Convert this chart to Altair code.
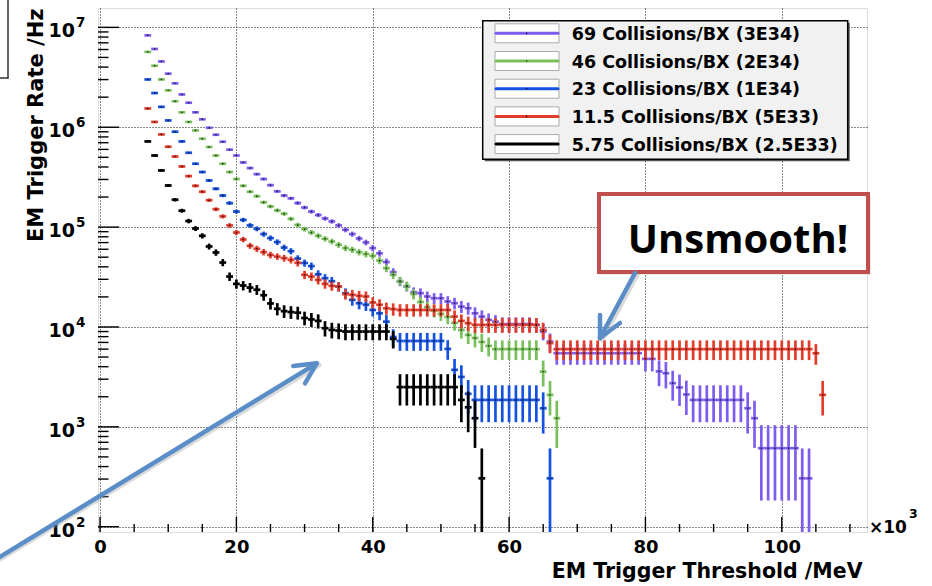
import altair as alt
import pandas as pd

# ---------------------------------------------------------------------------
# EM trigger rate (Hz) versus threshold, one histogram per pile-up scenario.
# Bin centres are in units of 10^3 MeV, bins are 1 unit wide.
# ---------------------------------------------------------------------------
labels = [
    "69 Collisions/BX (3E34)",
    "46 Collisions/BX (2E34)",
    "23 Collisions/BX (1E34)",
    "11.5 Collisions/BX (5E33)",
    "5.75 Collisions/BX (2.5E33)",
]
colors = ["#7f5cf0", "#79bf5c", "#1552e0", "#e23c2a", "#000000"]

first_bin = [7, 7, 7, 7, 7]

rate_69 = [
    8.32e6, 6.08e6, 4.56e6, 3.44e6, 2.75e6, 2.13e6, 1.76e6, 1.41e6, 1.20e6, 9.89e5,
    8.41e5, 7.16e5, 5.96e5, 5.21e5, 4.44e5, 3.90e5, 3.39e5, 3.03e5, 2.63e5, 2.28e5,
    2.07e5, 1.94e5, 1.74e5, 1.57e5, 1.43e5, 1.32e5, 1.22e5, 1.14e5, 1.04e5, 9.40e4,
    8.51e4, 7.69e4, 7.02e4, 6.17e4, 5.46e4, 4.47e4, 3.55e4, 2.85e4, 2.54e4, 2.23e4,
    2.18e4, 2.02e4, 1.94e4, 1.94e4, 1.80e4, 1.73e4, 1.60e4, 1.54e4, 1.37e4, 1.27e4,
    1.18e4, 1.13e4, 1.07e4, 1.07e4, 1.07e4, 1.07e4, 1.07e4, 1.05e4, 9.0e3, 7.14e3,
    5460, 5460, 5460, 5460, 5460, 5460, 5460, 5460, 5460, 5460,
    5460, 5460, 5460, 4790, 4790, 3590, 3440, 2735, 2480, 2110,
    1860, 1860, 1860, 1860, 1860, 1860, 1860, 1860, 1535, 1220,
    611, 611, 611, 611, 611, 611, 305, 305,
]

rate_46 = [
    5.68e6, 4.13e6, 3.01e6, 2.34e6, 1.82e6, 1.41e6, 1.13e6, 9.29e5, 7.67e5, 6.34e5,
    5.21e5, 4.31e5, 3.56e5, 3.03e5, 2.59e5, 2.26e5, 2.04e5, 1.77e5, 1.61e5, 1.47e5,
    1.36e5, 1.21e5, 1.05e5, 9.55e4, 8.83e4, 8.18e4, 7.64e4, 7.18e4, 6.65e4, 6.17e4,
    5.93e4, 5.61e4, 5.37e4, 5.15e4, 4.62e4, 3.88e4, 3.33e4, 2.88e4, 2.57e4, 2.14e4,
    1.78e4, 1.58e4, 1.45e4, 1.35e4, 1.26e4, 1.10e4, 9330, 8320, 7760, 7080,
    6460, 6000, 6000, 6000, 6000, 6000, 6000, 6000, 3570, 2090,
    1220,
]

rate_23 = [
    3.01e6, 2.20e6, 1.60e6, 1.17e6, 9.02e5, 7.21e5, 5.55e5, 4.31e5, 3.56e5, 2.93e5,
    2.42e5, 2.07e5, 1.74e5, 1.43e5, 1.18e5, 1.04e5, 9.62e4, 8.51e4, 7.76e4, 7.08e4,
    6.24e4, 5.74e4, 4.84e4, 4.37e4, 4.07e4, 3.37e4, 3.08e4, 2.87e4, 2.54e4, 2.18e4,
    1.87e4, 1.73e4, 1.67e4, 1.48e4, 1.37e4, 1.13e4, 7940, 7240, 7240, 7240,
    7240, 7240, 7240, 7240, 6030, 3720, 3160, 2140, 1860, 1860,
    1860, 1860, 1860, 1860, 1860, 1860, 1860, 1860, 1535, 305,
]

rate_11p5 = [
    1.54e6, 1.13e6, 8.47e5, 6.38e5, 5.09e5, 4.05e5, 3.24e5, 2.59e5, 2.26e5, 1.86e5,
    1.51e5, 1.28e5, 1.04e5, 8.83e4, 7.52e4, 6.50e4, 6.07e4, 5.62e4, 5.26e4, 5.07e4,
    4.89e4, 4.70e4, 4.39e4, 3.33e4, 3.20e4, 2.96e4, 2.70e4, 2.58e4, 2.54e4, 2.13e4,
    2.10e4, 2.05e4, 2.02e4, 1.76e4, 1.67e4, 1.54e4, 1.51e4, 1.48e4, 1.48e4, 1.48e4,
    1.48e4, 1.48e4, 1.48e4, 1.48e4, 1.48e4, 1.27e4, 1.15e4, 1.09e4, 1.05e4, 1.05e4,
    1.05e4, 1.05e4, 1.05e4, 1.05e4, 1.05e4, 1.05e4, 1.05e4, 1.05e4, 9350, 6890,
    6000, 6000, 6000, 6000, 6000, 6000, 6000, 6000, 6000, 6000,
    6000, 6000, 6000, 6000, 6000, 6000, 6000, 6000, 6000, 6000,
    6000, 6000, 6000, 6000, 6000, 6000, 6000, 6000, 6000, 6000,
    6000, 6000, 6000, 6000, 6000, 6000, 6000, 6000, 5460, 2090,
]

rate_5p75 = [
    7.21e5, 5.21e5, 3.69e5, 2.61e5, 1.88e5, 1.46e5, 1.15e5, 9.68e4, 8.18e4, 6.40e4,
    5.57e4, 4.42e4, 3.20e4, 2.70e4, 2.60e4, 2.48e4, 2.36e4, 2.08e4, 1.72e4, 1.52e4,
    1.44e4, 1.41e4, 1.39e4, 1.23e4, 1.19e4, 1.15e4, 9730, 9350, 9200, 9000,
    9000, 9000, 9000, 9000, 9000, 9000, 7590, 2500, 2500, 2500,
    2500, 2500, 2500, 2500, 2500, 2500, 1860, 1570, 1220, 305,
]

series_rates = [rate_69, rate_46, rate_23, rate_11p5, rate_5p75]

# Rate carried by a single selected event; errors are Poisson, sqrt(N) events.
EVENT_WEIGHT = 300.0

X_DOMAIN = [-0.3, 112.5]
Y_DOMAIN = [88.5, 1.563e7]

rows = []
for order, (lab, start, rates) in enumerate(zip(labels, first_bin, series_rates)):
    for i, r in enumerate(rates):
        x = start + i
        err = (EVENT_WEIGHT * r) ** 0.5
        rows.append({
            "series": lab, "order": order, "x": x, "xl": x - 0.5, "xr": x + 0.5,
            "rate": r, "lo": max(r - err, Y_DOMAIN[0]), "hi": r + err,
        })
hist = pd.DataFrame(rows)

# plot-area geometry (pixels in the page)
X0, Y0, W, H = 98, 8, 769, 524

xs = alt.Scale(domain=X_DOMAIN, nice=False, zero=False)
ys = alt.Scale(type="log", domain=Y_DOMAIN, nice=False)
cs = alt.Scale(domain=labels, range=colors)

FONT = "DejaVu Sans"

# one axis definition per channel, shared by every layer so they merge
x_axis = alt.Axis(
    values=[0, 20, 40, 60, 80, 100], format="d", grid=True, gridDash=[1, 2],
    gridColor="#111", gridWidth=1, ticks=False, domain=False, labelFlush=False,
    labelFont=FONT, labelFontWeight="bold", labelFontSize=18, labelColor="black",
    labelPadding=6, title="EM Trigger Threshold /MeV", titleFont=FONT,
    titleFontWeight="bold", titleFontSize=20.5, titleColor="black",
    titleX=764, titleY=45.5, titleAlign="right", titleBaseline="alphabetic",
)
y_axis = alt.Axis(
    values=[1e2, 1e3, 1e4, 1e5, 1e6, 1e7], grid=True, gridDash=[1, 2],
    gridColor="#111", gridWidth=1, ticks=False, domain=False, labels=False,
    title="EM Trigger Rate /Hz", titleFont=FONT, titleFontWeight="bold",
    titleFontSize=21, titleColor="black", titleAngle=270, titleAlign="right",
    titleBaseline="middle", titleX=-62, titleY=0,
)


def X(field):
    return alt.X(field, scale=xs, axis=x_axis)


def Y(field):
    return alt.Y(field, scale=ys, axis=y_axis)


base = alt.Chart(hist)
h_bars = base.mark_rule(strokeWidth=2.7, clip=True).encode(
    x=X("xl:Q"), x2="xr:Q", y=Y("rate:Q"),
    color=alt.Color("series:N", scale=cs, legend=None),
)
v_bars = base.mark_rule(strokeWidth=2.7, clip=True).encode(
    x=X("x:Q"), y=Y("lo:Q"), y2="hi:Q",
    color=alt.Color("series:N", scale=cs, legend=None),
)
dots = base.mark_square(size=2, color="black", opacity=0.8, clip=True).encode(
    x=X("x:Q"), y=Y("rate:Q"),
)

# inward axis ticks
y_major = [10.0 ** k for k in range(2, 8)]
y_minor = [m * 10.0 ** k for k in range(2, 7) for m in range(2, 10)]
x_major = [0, 20, 40, 60, 80, 100]
x_minor = [v for v in range(5, 112, 5) if v % 20]


def y_ticks(vals, length):
    return alt.Chart(pd.DataFrame({"v": vals})).mark_rule(color="black", strokeWidth=1.4).encode(
        y=Y("v:Q"), x=alt.value(0), x2=alt.value(length))


def x_ticks(vals, length):
    return alt.Chart(pd.DataFrame({"v": vals})).mark_rule(color="black", strokeWidth=1.4).encode(
        x=X("v:Q"), y=alt.value(H), y2=alt.value(H - length))


ticks = [y_ticks(y_major, 21), y_ticks(y_minor, 10.5), x_ticks(x_major, 15), x_ticks(x_minor, 8)]

# "10^k" labels on the log axis
exp_df = pd.DataFrame({"v": y_major, "e": [str(k) for k in range(2, 8)]})
ten_lbl = alt.Chart(exp_df).mark_text(
    text="10", font=FONT, fontWeight="bold", fontSize=19, align="right",
    baseline="middle", dy=4, color="black").encode(y=Y("v:Q"), x=alt.value(-23))
exp_lbl = alt.Chart(exp_df).mark_text(
    font=FONT, fontWeight="bold", fontSize=13.5, align="left", baseline="middle",
    dy=-4, color="black").encode(y=Y("v:Q"), x=alt.value(-22), text="e:N")

one = pd.DataFrame({"k": [0]})


def seg(x1, y1, x2, y2, color, width, opacity=1.0):
    return alt.Chart(one).mark_rule(color=color, strokeWidth=width, strokeCap="round",
                                    opacity=opacity).encode(
        x=alt.value(x1 - X0), y=alt.value(y1 - Y0), x2=alt.value(x2 - X0), y2=alt.value(y2 - Y0))


def box(x1, y1, x2, y2, **kw):
    return alt.Chart(one).mark_rect(**kw).encode(
        x=alt.value(x1 - X0), y=alt.value(y1 - Y0), x2=alt.value(x2 - X0), y2=alt.value(y2 - Y0))


def label(txt, x, y, **kw):
    return alt.Chart(one).mark_text(text=txt, **kw).encode(x=alt.value(x - X0), y=alt.value(y - Y0))


# legend
legend = [
    box(484.7, 22.7, 849.7, 161.3, fill="#555555"),
    box(482.7, 20.7, 847.7, 159.3, fill="#f1f1f1", stroke="black", strokeWidth=1.5),
]
for i, (lab, col) in enumerate(zip(labels, colors)):
    cy = 33.3 + 27.7 * i
    legend += [
        box(495, cy - 9.5, 559, cy + 9.5, fill="white", stroke="#aaaaaa", strokeWidth=1),
        seg(496, cy, 558, cy, col, 3),
        box(526, cy - 0.6, 527.2, cy + 0.6, fill="black"),
        label(lab, 571.7, cy + 6.7, font=FONT, fontWeight="bold", fontSize=17.5,
              align="left", baseline="alphabetic", color="black"),
    ]

# axis multiplier
mult = [
    label("\u00d710", 869, 533, font=FONT, fontWeight="bold", fontSize=17, align="left",
          baseline="alphabetic", color="black"),
    label("3", 909, 518, font=FONT, fontWeight="bold", fontSize=12.5, align="left",
          baseline="alphabetic", color="black"),
]

# callout and arrows
ARROW = "#5b8ec8"
callout = [
    box(601, 196, 871, 275, fill="#d9d9d9", opacity=0.6),
    box(599, 194, 868, 272, fill="white", stroke="#c0504d", strokeWidth=4),
    label("Unsmooth!", 738, 253, font="Open Sans", fontWeight="bold", fontSize=40,
          align="center", baseline="alphabetic", color="black"),
    seg(637, 275, 602, 340, "#999999", 5, 0.35),
    seg(635, 273, 600, 338, ARROW, 4.5),
    seg(600, 338, 600, 315, ARROW, 4.5),
    seg(600, 338, 620, 323, ARROW, 4.5),
    seg(-5, 562, 319, 365, "#999999", 5, 0.35),
    seg(-5, 560, 316.7, 363.3, ARROW, 4.5),
    seg(316.7, 363.3, 293.3, 366, ARROW, 4.5),
    seg(316.7, 363.3, 305, 383.3, ARROW, 4.5),
]

# slide frame fragment at the upper left
frame = [seg(8, -2, 8, 78, "#333333", 1.5), seg(-2, 78, 8, 78, "#333333", 1.5)]

chart = alt.layer(
    h_bars, v_bars, dots, *ticks, ten_lbl, exp_lbl, *legend, *mult, *callout, *frame
).properties(
    width=W, height=H,
    padding={"left": X0, "top": Y0, "right": 932 - X0 - W, "bottom": 586 - Y0 - H},
    autosize=alt.AutoSizeParams(type="none"),
).configure_view(stroke="black", strokeWidth=2).configure(background="white")

chart.save("out.html", embed_options={"renderer": "svg", "actions": False})
